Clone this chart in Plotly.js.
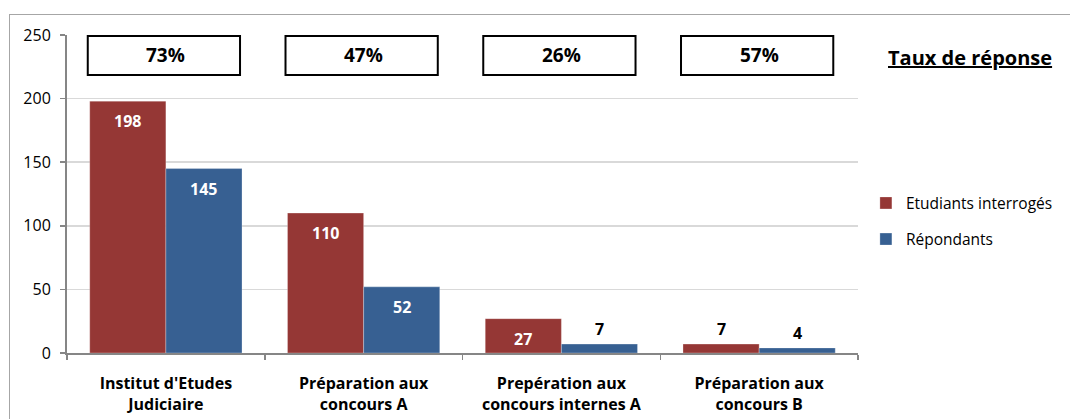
<!DOCTYPE html>
<html>
<head>
<meta charset="utf-8">
<script src="https://cdn.plot.ly/plotly-3.0.1.min.js"></script>
<style>
  html, body { margin: 0; padding: 0; background: #fff; }
  #wrap { position: relative; width: 1070px; height: 419px; overflow: hidden; }
  #frame { position: absolute; left: 9px; top: 14px; width: 1080px; height: 420px; border: 1.5px solid #a6a6a6; box-sizing: border-box; }
  #chart { position: absolute; left: 0; top: 0; width: 1070px; height: 419px; }
</style>
</head>
<body>
<div id="wrap">
  <div id="frame"></div>
  <div id="chart"></div>
</div>
<script>
const categories = [
  "Institut d'Etudes<br>Judiciaire",
  "Préparation aux<br>concours A",
  "Prepération aux<br>concours internes A",
  "Préparation aux<br>concours B"
];
const etudiants = [198, 110, 27, 7];
const repondants = [145, 52, 7, 4];
const tauxReponse = ["73%", "47%", "26%", "57%"];
const seriesNames = ["Etudiants interrogés", "Répondants"];

const RED = "#953735";
const BLUE = "#376092";
const FONT = "'Open Sans', 'Noto Sans', sans-serif";
const BARGAP = 0.23;
const barW = (1 - BARGAP) / 2;

const traces = [
  { type: "bar", name: seriesNames[0], x: categories, y: etudiants, legendgroup: "a",
    marker: { color: RED, line: { color: "rgba(255,255,255,0.35)", width: 0.8 } }, hoverinfo: "none" },
  { type: "bar", name: seriesNames[1], x: categories, y: repondants, legendgroup: "b",
    marker: { color: BLUE, line: { color: "rgba(255,255,255,0.35)", width: 0.8 } }, hoverinfo: "none" }
];

const annotations = [];
const shapes = [];
[etudiants, repondants].forEach((vals, s) => {
  vals.forEach((v, i) => {
    const inside = v > 20;
    annotations.push({
      x: i + (s === 0 ? -barW / 2 : barW / 2), y: v, xref: "x", yref: "y",
      text: "<b>" + v + "</b>", showarrow: false, yanchor: "middle",
      yshift: inside ? -20 : 15,
      font: { family: FONT, size: 16, color: inside ? "#ffffff" : "#000000" }
    });
  });
});
tauxReponse.forEach((t, i) => {
  shapes.push({
    type: "rect", xref: "x", yref: "y",
    x0: i - barW - 0.01, x1: i + barW - 0.01, y0: 218.5, y1: 249.2,
    line: { color: "#000000", width: 2 }, fillcolor: "#ffffff", layer: "above"
  });
  annotations.push({
    x: i, y: 234, xref: "x", yref: "y", text: "<b>" + t + "</b>", showarrow: false,
    font: { family: FONT, size: 19, color: "#000000" }
  });
});
annotations.push({
  x: 1.141, y: 0.93, xref: "paper", yref: "paper", xanchor: "center", yanchor: "middle",
  text: "<b><u>Taux de réponse</u></b>", showarrow: false,
  font: { family: FONT, size: 20, color: "#000000" }
});

const layout = {
  width: 1070, height: 419,
  margin: { l: 67, r: 210, t: 35, b: 66, pad: 0 },
  paper_bgcolor: "rgba(0,0,0,0)", plot_bgcolor: "rgba(0,0,0,0)",
  barmode: "group", bargap: BARGAP, bargroupgap: 0,
  showlegend: true,
  legend: {
    x: 1.010, y: 0.414, xanchor: "left", yanchor: "middle",
    font: { family: FONT, size: 15.5, color: "#000000" },
    tracegroupgap: 13, traceorder: "grouped", bgcolor: "rgba(0,0,0,0)"
  },
  font: { family: FONT, size: 16, color: "#000000" },
  xaxis: {
    type: "category", showline: true, linecolor: "#868686", linewidth: 2,
    ticks: "outside", tickson: "boundaries", ticklen: 5, tickcolor: "#868686", tickwidth: 1.5,
    tickfont: { family: FONT, size: 16, color: "#000000", weight: "bold" },
    ticklabelstandoff: 15,
    showgrid: false, zeroline: false, fixedrange: true
  },
  yaxis: {
    range: [0, 250], dtick: 50, tick0: 0, showline: true, linecolor: "#868686", linewidth: 2,
    ticks: "outside", ticklen: 5, tickcolor: "#868686", tickwidth: 1.5,
    showgrid: true, gridcolor: "#d9d9d9", gridwidth: 1.5, zeroline: false,
    tickfont: { family: FONT, size: 16, color: "#000000" }, ticklabelstandoff: 6, fixedrange: true
  },
  annotations: annotations,
  shapes: shapes
};

Plotly.newPlot("chart", traces, layout, { displayModeBar: false, staticPlot: true });
</script>
</body>
</html>
